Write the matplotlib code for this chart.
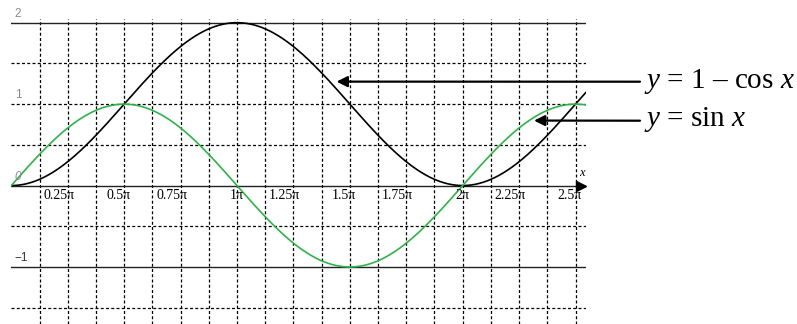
import numpy as np
import matplotlib
matplotlib.use("Agg")
import matplotlib.pyplot as plt
from matplotlib.transforms import offset_copy

plt.rcParams['mathtext.fontset'] = 'custom'
plt.rcParams['mathtext.rm'] = 'Liberation Serif'
plt.rcParams['mathtext.it'] = 'Liberation Serif:italic'

# 数据：两条函数曲线（x 以 π 为单位）
x_min, x_max = 0.0, 2.545
x_pi = np.linspace(x_min, x_max, 600)
y_sin = np.sin(x_pi * np.pi)                # y = sin x
y_one_minus_cos = 1 - np.cos(x_pi * np.pi)  # y = 1 - cos x

tick_pos = [0.25, 0.5, 0.75, 1.0, 1.25, 1.5, 1.75, 2.0, 2.25, 2.5]
tick_labels = ['0.25π', '0.5π', '0.75π', '1π', '1.25π', '1.5π', '1.75π', '2π', '2.25π', '2.5π']
vgrid_pos = [0.125 * k for k in range(1, 21)]
hgrid_dashed = [1.5, 1.0, 0.5, -0.5, -1.5]
hgrid_solid = [2.0, 0.0, -1.0]
ytick_pos = [2, 1, 0, -1]
ytick_labels = ['2', '1', '0', '−1']
ytick_colors = ['#8a8a8a', '#8a8a8a', '#8a8a8a', '#333333']

green = '#2fb24a'

fig = plt.figure(figsize=(7.97, 3.24), dpi=100)
ax = fig.add_axes([11.3 / 797, 0, (585.7 - 11.3) / 797, 1 - 19 / 324])
ax.set_xlim(x_min, x_max)
ax.set_ylim(-1.70, 2.045)
ax.set_axis_off()

# 网格线
for xv in vgrid_pos:
    ax.axvline(xv, color='black', lw=0.9, ls=(0, (2.4, 1.8)), zorder=1)
for yv in hgrid_dashed:
    ax.axhline(yv, color='black', lw=0.9, ls=(0, (2.4, 1.8)), zorder=1)
for yv in hgrid_solid:
    ax.axhline(yv, color='#222222', lw=1.0, zorder=2)

# 曲线
ax.plot(x_pi, y_one_minus_cos, color='black', lw=1.2, zorder=3)
ax.plot(x_pi, y_sin, color=green, lw=1.2, zorder=3)

# x 轴箭头和标签
ax.plot(2.523, 0, marker='>', ms=7, color='black', clip_on=False, zorder=4)
ax.text(2.529, 0.16, 'x', fontsize=9, family='Liberation Serif', style='italic',
        ha='center', va='center')

# x 刻度标签
xt = offset_copy(ax.transData, fig=fig, x=6.5, y=-3, units='dots')
for p, lab in zip(tick_pos, tick_labels):
    ax.text(p, 0, lab, transform=xt, fontsize=10, family='Liberation Serif',
            ha='right', va='top')

# y 刻度标签
yt = offset_copy(ax.transData, fig=fig, x=3.5, y=3, units='dots')
for p, lab, c in zip(ytick_pos, ytick_labels, ytick_colors):
    ax.text(0, p, lab, transform=yt, fontsize=8.5, family='Liberation Sans',
            color=c, ha='left', va='bottom', style='italic' if p == 0 else 'normal')

# 注释箭头
arrow_kw = dict(arrowstyle='-|>', color='black', lw=1.6, mutation_scale=16,
                shrinkA=0, shrinkB=0)
ax.annotate('', xy=(1.441, 1.276), xytext=(640, 324 - 81.7),
            textcoords='figure pixels', arrowprops=arrow_kw, annotation_clip=False)
ax.annotate('', xy=(2.316, 0.798), xytext=(640, 324 - 120.7),
            textcoords='figure pixels', arrowprops=arrow_kw, annotation_clip=False)

fig.text(644 / 797, (324 - 88) / 324, '$y$ = 1 – cos $x$', fontsize=21,
         family='Liberation Serif', ha='left', va='baseline')
fig.text(644 / 797, (324 - 126) / 324, '$y$ = sin $x$', fontsize=21,
         family='Liberation Serif', ha='left', va='baseline')

fig.savefig('out.png', dpi=100)
